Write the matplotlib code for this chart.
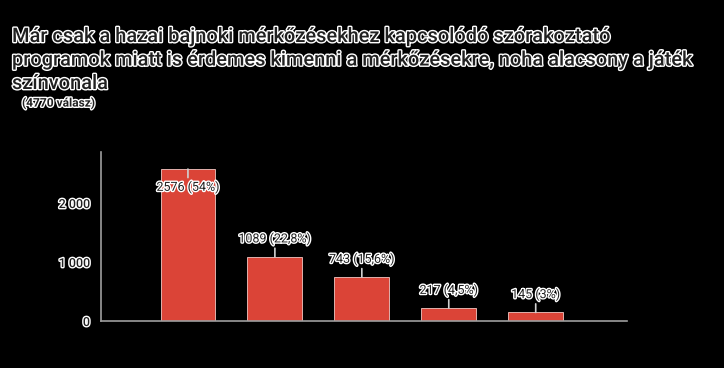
import matplotlib.pyplot as plt
import matplotlib.patheffects as pe

# Chart data
categories = ["1", "2", "3", "4", "5"]
counts = [2576, 1089, 743, 217, 145]
pct_labels = ["54%", "22,8%", "15,6%", "4,5%", "3%"]
total_answers = 4770
title_lines = ["Már csak a hazai bajnoki mérkőzésekhez kapcsolódó szórakoztató",
               "programok miatt is érdemes kimenni a mérkőzésekre, noha alacsony a játék",
               "színvonala"]

plt.rcParams['font.family'] = ['Roboto', 'DejaVu Sans']

halo = [pe.withStroke(linewidth=2, foreground='white')]
text_col = '#212121'

fig = plt.figure(figsize=(7.24, 3.68), dpi=100, facecolor='black')
ax = fig.add_axes([101 / 724, (368 - 321) / 368, 526 / 724, 169 / 368])
ax.set_facecolor('black')

xs = list(range(1, len(counts) + 1))
ax.bar(xs, counts, width=0.63, color='#DB4437', edgecolor='#f4c7c3', linewidth=0.6)

ax.set_xlim(0, 6.05)
ax.set_ylim(0, 2865)
ax.set_yticks([0, 1000, 2000])
ax.set_yticklabels(["0", "1 000", "2 000"])
ax.set_xticks([])
ax.tick_params(axis='y', length=0, pad=8, labelsize=9, labelcolor=text_col)
for lab in ax.get_yticklabels():
    lab.set_path_effects(halo)
    lab.set_fontweight('medium')

for side in ['top', 'right']:
    ax.spines[side].set_visible(False)
for side in ['left', 'bottom']:
    ax.spines[side].set_color('#9e9e9e')
    ax.spines[side].set_linewidth(1.2)

# value labels with leader lines
for i, (x, c, p) in enumerate(zip(xs, counts, pct_labels)):
    dy = -13 if i == 0 else 13
    ax.annotate(f"{c} ({p})", xy=(x, c), xytext=(0, dy), textcoords='offset points',
                ha='center', va='center', fontsize=9, color=text_col,
                path_effects=halo,
                arrowprops=dict(arrowstyle='-', color='#d0d0d0', lw=1.2,
                                shrinkA=0, shrinkB=0))

# title, one line at a time
for k, line in enumerate(title_lines):
    fig.text(12 / 724, 1 - (42 + 23.5 * k) / 368, line, fontsize=14.4,
             fontweight='medium', color=text_col, va='baseline', ha='left',
             path_effects=halo)
fig.text(22 / 724, 1 - 103 / 368, f"({total_answers} válasz)", fontsize=8.6,
         fontweight='bold', color=text_col, va='center', ha='left',
         path_effects=halo)

fig.savefig('out.png', dpi=100, facecolor='black')
